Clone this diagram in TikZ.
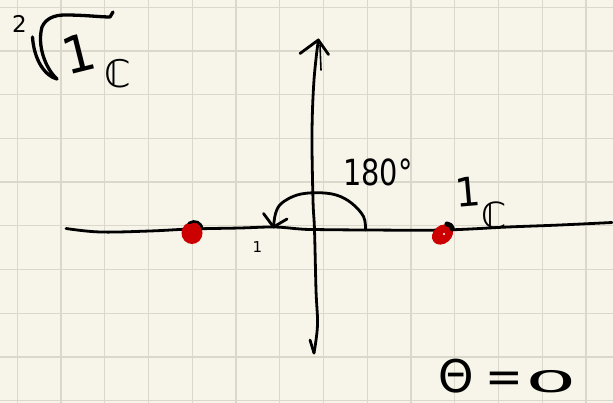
\documentclass[tikz,border=0pt]{standalone}
\usepackage{fontspec}
\usepackage{graphicx}
\setmainfont{DejaVu Sans}
\definecolor{paper}{RGB}{247,245,234}
\definecolor{gridc}{RGB}{218,216,203}
\definecolor{redink}{RGB}{204,0,0}
\begin{document}
\begin{tikzpicture}[x=1pt,y=-1pt,
  ink/.style={line width=2.8pt, line cap=round, line join=round, draw=black},
  gridline/.style={line width=1.3pt, draw=gridc},
  hand/.style={inner sep=0pt, text=black},
  dotred/.style={fill=redink},
]
\fill[paper] (0,0) rectangle (613,403);
\useasboundingbox (0,0) rectangle (613,403);
% grid
\foreach \i in {0,...,13} \draw[gridline] ({17.3+43.75*\i},0) -- ({17.3+43.75*\i},403);
\foreach \j in {0,...,9} \draw[gridline] (0,{7.3+43.7*\j}) -- (613,{7.3+43.7*\j});

% horizontal axis
\coordinate (xl) at (66,228.5);
\coordinate (xr) at (612,222.5);
\draw[ink] plot[smooth, tension=0.6] coordinates {(66,228.5) (100,232) (150,231) (191,229) (240,228) (274,227) (300,229) (313,229.5) (366,230) (444,230) (508,227) (560,225) (612,222.5)};

% vertical axis
\coordinate (yt) at (318.3,40);
\coordinate (yb) at (314,353);
\draw[ink] plot[smooth, tension=0.6] coordinates {(318.3,40) (314,80) (312,133) (313,200) (314.5,230) (316,290) (317.5,325) (314,353)};
\draw[ink] (300,53.5) -- (yt) -- (328.5,54.5);
\draw[ink, line width=1.6pt] (320,45) -- (321,70);
\draw[ink] (310,340) -- (yb);

% 180 degree arc
\coordinate (as) at (365.5,230);
\coordinate (ae) at (273.5,227);
\draw[ink] plot[smooth, tension=0.6] coordinates {(365.5,230) (363.6,216.7) (351.8,203.3) (336.2,195) (316.7,192.7) (297.1,195) (281.5,203.3) (275.6,213.3) (273.5,227)};
\draw[ink] (263.5,213.5) -- (ae) -- (287,219);

% red points
\fill[dotred] (192,233) ellipse [x radius=10.5, y radius=11];
\draw[ink, line width=2.6pt] (189,223) .. controls (195,219.5) and (201,222) .. (202.5,229);
\fill[dotred, rotate around={40:(442.5,234.5)}] (442.5,234.5) ellipse [x radius=11.5, y radius=9];
\draw[ink, line width=5pt, line cap=round] (447,224) .. controls (450,224.5) and (452,226) .. (452.5,229);
\fill[white] (444,234) circle (1.2);

% sqrt sign
\draw[ink, line width=3.3pt] (32.5,37) .. controls (34,60) and (45,76) .. (57,79)
  .. controls (45,68) and (37,45) .. (42,27) .. controls (46,18) and (55,15) .. (65,15)
  .. controls (85,15) and (100,17) .. (110,17) -- (113,12);
\node[hand, font=\fontsize{23}{23}\selectfont] (idx) at (19.5,23.5) {2};
\node[hand, font=\fontsize{51}{51}\selectfont, rotate=14] (rad1) at (79,54) {1};
\node[hand, font=\fontsize{38}{38}\selectfont] (radC) at (118,74) {ℂ};

% labels
\node[hand, font=\fontsize{36}{36}\selectfont, xscale=0.8, anchor=base west] (deg) at (343,186) {180°};
\node[hand, font=\fontsize{40}{40}\selectfont, rotate=5] (one) at (468,192) {1};
\node[hand, font=\fontsize{36}{36}\selectfont] (oneC) at (494,215) {ℂ};
\node[hand, font=\fontsize{15}{15}\selectfont] (tick) at (257.5,247.5) {1};
\node[hand, font=\fontsize{45}{45}\selectfont, anchor=base west] (theta) at (438,392) {Θ\kern 12pt=\kern 2pt\scalebox{1.8}[0.66]{0}};
\end{tikzpicture}
\end{document}
